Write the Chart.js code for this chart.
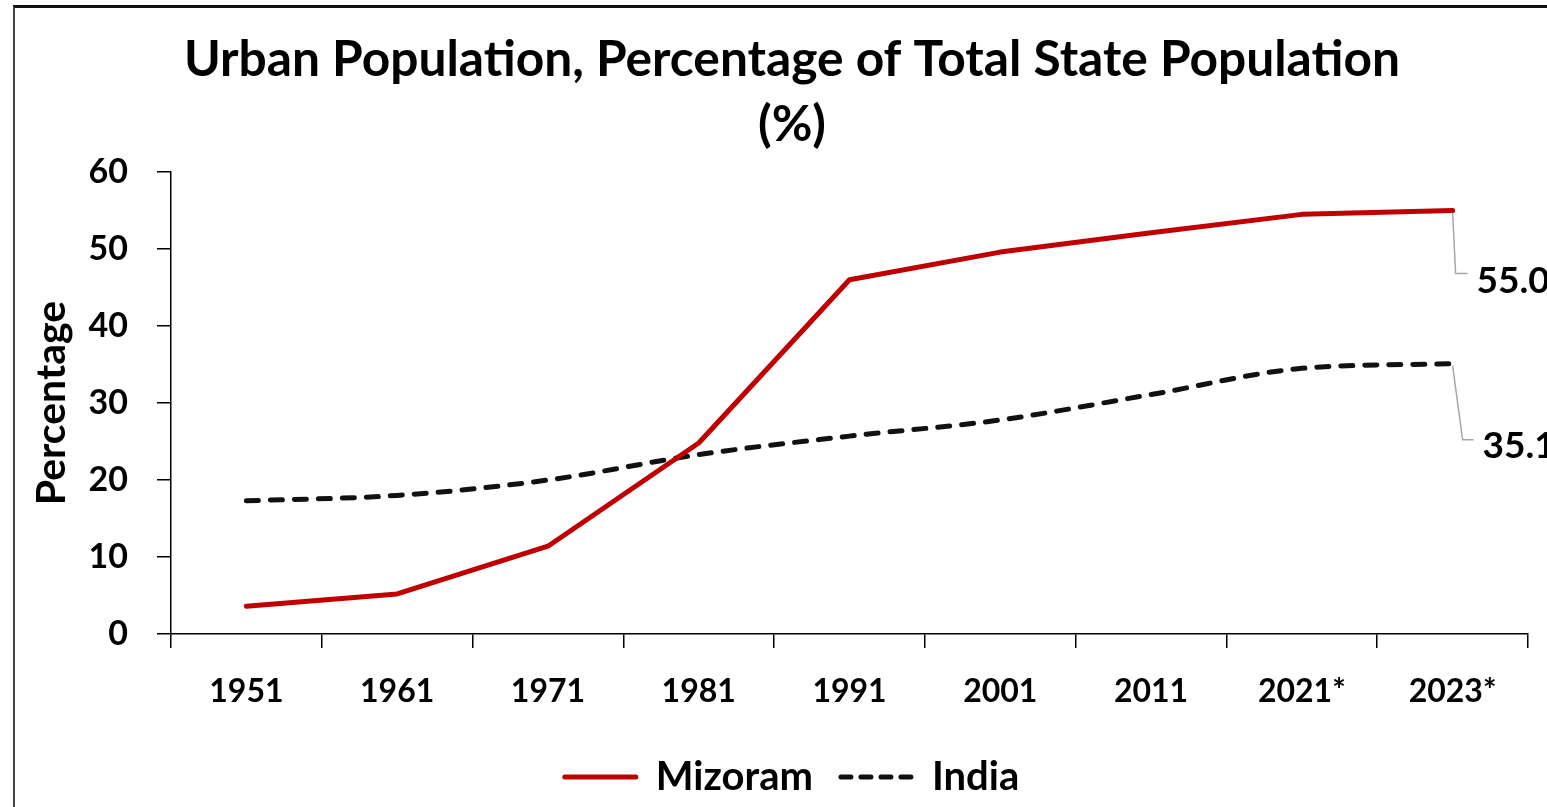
<!DOCTYPE html>
<html>
<head>
<meta charset="utf-8">
<script src="https://cdn.jsdelivr.net/npm/chart.js@4.4.1/dist/chart.umd.min.js"></script>
<style>
  html, body { margin: 0; padding: 0; background: #fff; overflow: hidden; }
  #frame { position: absolute; left: 13px; top: 5px; width: 1700px; height: 1000px;
           border-top: 3px solid #111; border-left: 2px solid #444; }
  #wrap { position: absolute; left: 0; top: 0; width: 1547px; height: 807px; }
</style>
</head>
<body>
<div id="frame"></div>
<div id="wrap"><canvas id="c" width="1547" height="807"></canvas></div>
<script>
const categories = ['1951', '1961', '1971', '1981', '1991', '2001', '2011', '2021*', '2023*'];
const mizoram = [3.6, 5.2, 11.4, 24.8, 46.0, 49.6, 52.1, 54.5, 55.0];
const india = [17.3, 18.0, 20.0, 23.3, 25.7, 27.8, 31.1, 34.5, 35.1];
const yTicks = [0, 10, 20, 30, 40, 50, 60];
const endLabels = ['55.0', '35.1'];

const FONT = 'Lato, "Open Sans", sans-serif';

const leaderPlugin = {
  id: 'leader',
  afterDatasetsDraw(chart) {
    const ctx = chart.ctx;
    const offs = [{dx1: 3, dy1: 63, dx2: 15, tx: 24, ty: 71}, {dx1: 10, dy1: 76, dx2: 21, tx: 30, ty: 82}];
    chart.data.datasets.forEach((ds, i) => {
      const meta = chart.getDatasetMeta(i);
      const pt = meta.data[meta.data.length - 1];
      const o = offs[i];
      ctx.save();
      ctx.strokeStyle = '#a6a6a6';
      ctx.lineWidth = 1.5;
      ctx.beginPath();
      ctx.moveTo(pt.x, pt.y + 2);
      ctx.lineTo(pt.x + o.dx1, pt.y + o.dy1);
      ctx.lineTo(pt.x + o.dx2, pt.y + o.dy1);
      ctx.stroke();
      ctx.fillStyle = '#000';
      ctx.font = 'bold 37px ' + FONT;
      ctx.textBaseline = 'middle';
      ctx.textAlign = 'left';
      ctx.fillText(endLabels[i], pt.x + o.tx, pt.y + o.ty);
      ctx.restore();
    });
  }
};

new Chart(document.getElementById('c'), {
  type: 'line',
  data: {
    labels: categories,
    datasets: [
      { label: 'Mizoram', data: mizoram, borderColor: '#C00000', backgroundColor: '#C00000',
        borderWidth: 5, pointRadius: 0, tension: 0, borderCapStyle: 'round', borderJoinStyle: 'round' },
      { label: 'India', data: india, borderColor: '#111', backgroundColor: '#111',
        borderWidth: 5, pointRadius: 0, borderDash: [12, 12], borderCapStyle: 'round',
        cubicInterpolationMode: 'monotone', tension: 0.3 }
    ]
  },
  options: {
    responsive: false,
    animation: false,
    layout: { padding: { left: 56, right: 19, top: 0, bottom: 0 } },
    plugins: {
      title: {
        display: true,
        text: ['Urban Population, Percentage of Total State Population', '(%)'],
        color: '#000',
        font: { family: FONT, size: 49.7, weight: 'bold', lineHeight: 1.308 },
        padding: { top: 27, bottom: 15 }
      },
      legend: {
        position: 'bottom',
        labels: {
          color: '#000',
          font: { family: FONT, size: 40, weight: 'bold' },
          usePointStyle: true,
          pointStyle: 'line',
          pointStyleWidth: 71,
          boxHeight: 20,
          padding: 28,
          generateLabels(chart) {
            return chart.data.datasets.map((ds, i) => ({
              text: ds.label,
              datasetIndex: i,
              fillStyle: ds.borderColor,
              strokeStyle: ds.borderColor,
              lineWidth: 5,
              lineDash: i === 1 ? [10, 10] : [],
              lineCap: 'round',
              pointStyle: 'line',
              fontColor: '#000',
              hidden: false
            }));
          }
        }
      },
      tooltip: { enabled: false }
    },
    scales: {
      x: {
        offset: true,
        afterFit(scale) { scale.height = 95; },
        grid: { display: true, offset: true, drawOnChartArea: false, drawTicks: true, tickLength: 14, color: '#000', lineWidth: 1.5 },
        border: { display: true, color: '#000', width: 1.5 },
        ticks: { color: '#000', font: { family: FONT, size: 32, weight: 'bold' }, padding: 24, maxRotation: 0 }
      },
      y: {
        min: 0, max: 60,
        afterBuildTicks(scale) { scale.ticks = yTicks.map(v => ({ value: v })); },
        afterFit(scale) { scale.width = 115; },
        grid: { display: true, drawOnChartArea: false, drawTicks: true, tickLength: 14, color: '#000', lineWidth: 1.5 },
        border: { display: true, color: '#000', width: 1.5 },
        ticks: { color: '#000', font: { family: FONT, size: 34, weight: 'bold' }, padding: 29 },
        title: { display: true, text: 'Percentage', color: '#000',
                 font: { family: FONT, size: 41, weight: 'bold' }, padding: { top: -29, bottom: 0 } }
      }
    }
  },
  plugins: [leaderPlugin]
});
</script>
</body>
</html>
